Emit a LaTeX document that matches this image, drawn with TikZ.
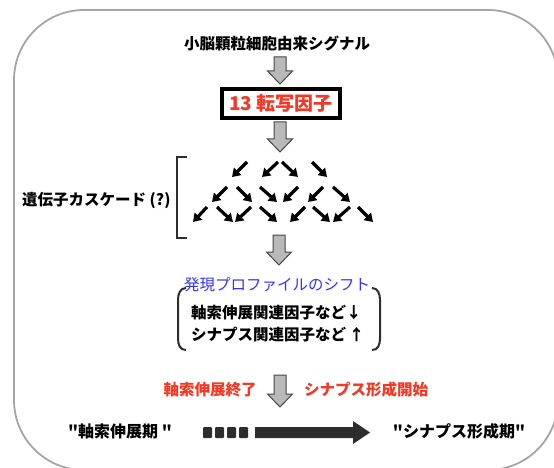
\documentclass[tikz,border=0pt]{standalone}
\usepackage{fontspec}
\newfontfamily\jp{Noto Sans CJK JP}
\usetikzlibrary{arrows.meta}
\definecolor{myred}{RGB}{245,55,35}
\definecolor{myblue}{RGB}{50,50,255}
\definecolor{framegray}{RGB}{165,165,165}
\definecolor{arrfill}{RGB}{185,185,185}
\definecolor{arrline}{RGB}{70,70,70}
\definecolor{dark}{RGB}{45,45,45}
\tikzset{
  jpb/.style={font=\jp\bfseries\fontsize{15.5}{17}\selectfont, text=black, inner sep=0pt},
  jpn/.style={font=\jp\fontsize{15.5}{17}\selectfont, inner sep=0pt},
  blockarr/.style={fill=arrfill, draw=arrline, line width=1pt, line join=miter},
  casc/.style={line width=3.2pt, -{Triangle[length=8pt,width=10pt]}, black},
  brk/.style={line width=2pt, dark},
}
\newcommand{\blockdown}[3]{%
  \filldraw[blockarr] (#1-6,#2) -- (#1+6,#2) -- (#1+6,#3-13) -- (#1+12.5,#3-13) -- (#1,#3) -- (#1-12.5,#3-13) -- (#1-6,#3-13) -- cycle;}
\begin{document}
\begin{tikzpicture}[x=1pt,y=-1pt]
\useasboundingbox (0,0) rectangle (554,468);
% outer frame
\draw[framegray, line width=1.8pt, rounded corners=70pt] (14,10) rectangle (558,470);

% title
\node[jpb] (sig) at (277,43) {小脳顆粒細胞由来シグナル};
\blockdown{280}{57}{84}

% transcription factor box
\node[draw=black, line width=4pt, minimum width=118pt, minimum height=29pt, inner sep=0pt,
      font=\jp\bfseries\fontsize{19}{21}\selectfont, text=myred] (tf) at (281,103.5) {13 転写因子};
\blockdown{280}{122}{152}

% cascade label and bracket
\node[jpb, anchor=west] (casc) at (22,200) {遺伝子カスケード (?)};
\draw[brk] (187,157) -- (177,157) -- (177,238) -- (187,238);

% cascade arrows
\foreach \a/\b/\c/\d in {
  247/162/232/177, 278/162/262/177, 282/162/298/177, 312/162/327/177,
  227/187/212/202, 237/187/252/202, 260/187/277/202, 298/187/283/202, 323/187/308/202, 333/187/350/202,
  207/207/193/222, 217/207/233/222, 251/207/235/222, 260/207/277/222, 305/207/290/222, 313/207/330/222, 350/207/333/222, 358/207/373/222}
  \draw[casc] (\a,\b) -- (\c,\d);

\blockdown{279}{235}{265}

% expression profile shift
\node[jpn, text=myblue] (shift) at (277,285) {発現プロファイルのシフト};
\draw[brk] (186,288) .. controls (180,288) and (178,294) .. (178,300) -- (178,338) .. controls (178,345) and (180,350) .. (186,350);
\draw[brk] (372,288) .. controls (378,288) and (380,294) .. (380,300) -- (380,338) .. controls (380,345) and (378,350) .. (372,350);
\node[jpb, anchor=west] (down) at (191,313) {軸索伸展関連因子など↓};
\node[jpb, anchor=west] (up) at (191,335) {シナプス関連因子など\,↑};

% transition
\blockdown{280}{375}{407}
\node[jpb, text=myred, font=\jp\bfseries\fontsize{15.5}{17}\selectfont] (endax) at (210,390) {軸索伸展終了};
\node[jpb, text=myred, font=\jp\bfseries\fontsize{15.5}{17}\selectfont] (startsyn) at (366,390) {シナプス形成開始};

% periods
\node[jpb, font=\jp\bfseries\fontsize{16}{18}\selectfont] (axp) at (120,431) {"軸索伸展期 "};
\node[jpb, font=\jp\bfseries\fontsize{16}{18}\selectfont] (synp) at (459,431) {"シナプス形成期"};
\foreach \x in {203,215,227,239}
  \fill[dark, rounded corners=1pt] (\x,427) rectangle (\x+9,438);
\fill[dark] (255,427) -- (353,427) -- (353,421) -- (370,432.5) -- (353,444) -- (353,438) -- (255,438) -- cycle;
\end{tikzpicture}
\end{document}
